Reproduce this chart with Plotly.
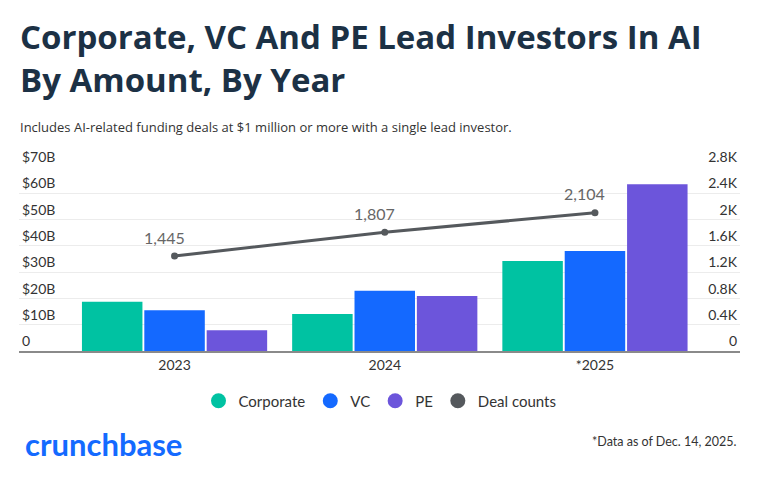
import plotly.graph_objects as go

years = ["2023", "2024", "*2025"]
corporate = [18.7, 14.1, 34.2]
vc = [15.5, 22.9, 38.0]
pe = [7.9, 20.9, 63.4]
deal_counts = [1445, 1807, 2104]

left_vals = [0, 10, 20, 30, 40, 50, 60, 70]
left_text = ["0", "$10B", "$20B", "$30B", "$40B", "$50B", "$60B", "$70B"]
right_vals = [0, 400, 800, 1200, 1600, 2000, 2400, 2800]
right_text = ["0", "0.4K", "0.8K", "1.2K", "1.6K", "2K", "2.4K", "2.8K"]

c_corp = "#00c2a2"
c_vc = "#1469ff"
c_pe = "#6c55db"
c_deal = "#55595d"
txt = "#333333"

# page puts the plot 8px in from the top-left corner
OFF = 8
W, H = 760, 478
L, R, T, B = 19 - OFF, 20 + OFF, 167 - OFF, 127 + OFF
ph = H - T - B


def py(pix):
    # pixel row in the screenshot -> paper y
    return (H - B - (pix - OFF)) / ph


fig = go.Figure()

for name, vals, col in [("Corporate", corporate, c_corp), ("VC", vc, c_vc), ("PE", pe, c_pe)]:
    fig.add_trace(go.Bar(x=years, y=vals, name=name, marker=dict(color=col, line=dict(width=0)),
                         showlegend=False))

fig.add_trace(go.Scatter(x=years, y=deal_counts, yaxis="y2", mode="lines+markers",
                         line=dict(color=c_deal, width=3), marker=dict(size=7, color=c_deal),
                         showlegend=False))

# legend entries drawn as circles
for name, col in [("Corporate", c_corp), ("VC", c_vc), ("PE", c_pe), ("Deal counts", c_deal)]:
    fig.add_trace(go.Scatter(x=[None], y=[None], mode="markers", name=name,
                             marker=dict(size=15, color=col, symbol="circle")))

# point labels
for i, v in enumerate(deal_counts):
    fig.add_annotation(x=i, y=v, yref="y2", text=f"{v:,}", showarrow=False,
                       xshift=-10, yshift=19, font=dict(size=16, color="#666666"))

fig.add_annotation(x=0.0, y=py(12), xref="paper", yref="paper", xanchor="left", yanchor="top",
                   align="left", showarrow=False, xshift=-1,
                   text="<b>Corporate, VC And PE Lead Investors In AI<br>By Amount, By Year</b>",
                   font=dict(family="Open Sans", size=33, color="#1c3145"))
fig.add_annotation(x=0.0, y=py(127), xref="paper", yref="paper", xanchor="left", yanchor="middle",
                   showarrow=False, xshift=-1,
                   text="Includes AI-related funding deals at $1 million or more with a single lead investor.",
                   font=dict(family="Open Sans", size=13, color=txt))
fig.add_annotation(x=0.0, y=py(444), xref="paper", yref="paper", xanchor="left", yanchor="middle",
                   showarrow=False, xshift=4,
                   text="<b>crunchbase</b>",
                   font=dict(family="Lato", size=31, color="#146aff"))
fig.add_annotation(x=1.0, y=py(441), xref="paper", yref="paper", xanchor="right", yanchor="middle",
                   showarrow=False, xshift=-2,
                   text="*Data as of Dec. 14, 2025.",
                   font=dict(family="Lato", size=12.5, color=txt))

fig.update_layout(
    width=W, height=H,
    margin=dict(l=L, r=R, t=T, b=B),
    paper_bgcolor="white", plot_bgcolor="white",
    font=dict(family="Lato", size=14, color=txt),
    barmode="group", bargap=0.11, bargroupgap=0.03,
    legend=dict(orientation="h", x=(380 - OFF - L) / (W - L - R), xanchor="center",
                y=py(401), yanchor="middle",
                font=dict(size=15, color=txt), itemwidth=30, traceorder="normal"),
    xaxis=dict(type="category", range=[-0.74, 2.69], showgrid=False, ticks="",
               showline=True, linecolor="#8a8a8a", linewidth=1.5,
               tickfont=dict(size=14, color=txt)),
    yaxis=dict(range=[0, 70], tickvals=left_vals, ticktext=left_text,
               ticklabelposition="inside top", ticklabeloverflow="allow",
               showgrid=True, gridcolor="#ececec", gridwidth=1, zeroline=False,
               tickfont=dict(size=14, color=txt)),
    yaxis2=dict(range=[0, 2800], tickvals=right_vals, ticktext=right_text, overlaying="y",
                side="right", ticklabelposition="inside top", ticklabeloverflow="allow",
                showgrid=False, zeroline=False, tickfont=dict(size=14, color=txt)),
)

fig.write_html("out.html")
